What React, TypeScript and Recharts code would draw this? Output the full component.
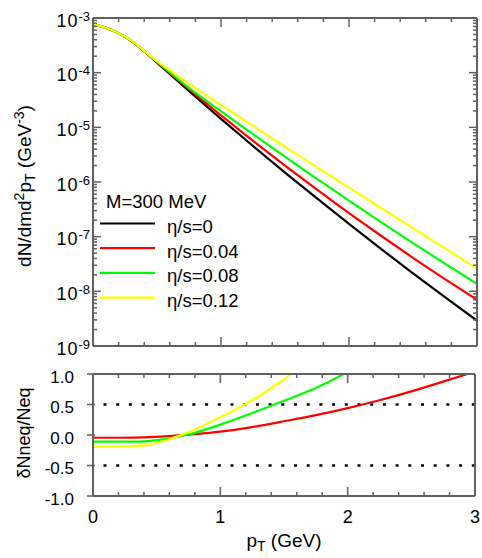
import React from 'react'
import { LineChart, Line, XAxis, YAxis, ReferenceLine, Legend } from 'recharts'

const FONT = '"Liberation Sans", Arial, Helvetica, sans-serif'
const FRAME = '#606060'

// transverse momentum grid of the spectra (GeV)
const ptGrid = [0, 0.1, 0.2, 0.3, 0.4, 0.5, 0.75, 1, 1.25, 1.5, 1.75, 2, 2.25, 2.5, 2.75, 3]

// dN/dmd2pT (GeV^-3), one list per eta/s
const spec0 = [7.76e-4, 6.61e-4, 5.25e-4, 3.8e-4, 2.45e-4, 1.53e-4, 4.62e-5, 1.43e-5, 4.56e-6, 1.49e-6, 5.0e-7, 1.71e-7, 5.98e-8, 2.14e-8, 7.82e-9, 2.92e-9]
const spec004 = [7.76e-4, 6.61e-4, 5.25e-4, 3.81e-4, 2.47e-4, 1.556e-4, 5.0e-5, 1.66e-5, 5.68e-6, 2.0e-6, 7.24e-7, 2.7e-7, 1.04e-7, 4.1e-8, 1.67e-8, 7.0e-9]
const spec008 = [7.76e-4, 6.61e-4, 5.25e-4, 3.82e-4, 2.49e-4, 1.585e-4, 5.27e-5, 1.97e-5, 7.48e-6, 2.9e-6, 1.14e-6, 4.55e-7, 1.85e-7, 7.64e-8, 3.21e-8, 1.37e-8]
const spec012 = [7.76e-4, 6.61e-4, 5.25e-4, 3.85e-4, 2.51e-4, 1.62e-4, 6.31e-5, 2.57e-5, 1.06e-5, 4.42e-6, 1.85e-6, 7.87e-7, 3.35e-7, 1.43e-7, 6.1e-8, 2.61e-8]

// dNneq/Neq, each curve stops where it leaves the frame
const ratioPt004 = [0, 0.2, 0.4, 0.6, 0.8, 1, 1.25, 1.5, 1.75, 2, 2.25, 2.5, 2.75, 2.94]
const ratio004 = [-0.045, -0.045, -0.04, -0.018, 0.015, 0.055, 0.13, 0.225, 0.325, 0.44, 0.57, 0.715, 0.875, 1.0]
const ratioPt008 = [0, 0.2, 0.4, 0.5, 0.6, 0.7, 0.8, 1, 1.25, 1.5, 1.75, 1.97]
const ratio008 = [-0.11, -0.11, -0.103, -0.085, -0.055, -0.015, 0.035, 0.17, 0.36, 0.56, 0.77, 1.0]
const ratioPt012 = [0, 0.2, 0.4, 0.5, 0.6, 0.7, 0.8, 1, 1.25, 1.5, 1.555]
const ratio012 = [-0.19, -0.188, -0.17, -0.13, -0.07, 0.005, 0.09, 0.29, 0.57, 0.91, 1.0]

// ticks
const ptTicks = [0, 0.2, 0.4, 0.6, 0.8, 1, 1.2, 1.4, 1.6, 1.8, 2, 2.2, 2.4, 2.6, 2.8, 3]
const decades = [1e-9, 1e-8, 1e-7, 1e-6, 1e-5, 1e-4, 1e-3]
const minorMult = [2, 3, 4, 5, 6, 7, 8, 9]
const ratioTicks = [-1, -0.5, 0, 0.5, 1]

const SERIES = [
  { key: 'v0', name: 'η/s=0', color: '#000000' },
  { key: 'v004', name: 'η/s=0.04', color: '#ff0000' },
  { key: 'v008', name: 'η/s=0.08', color: '#00ff00' },
  { key: 'v012', name: 'η/s=0.12', color: '#ffff00' },
]

const logTicks = decades.flatMap((d, i) =>
  i === decades.length - 1 ? [d] : [d, ...minorMult.map(m => m * d)])

const topData = ptGrid.map((pt, i) => ({
  pt, v0: spec0[i], v004: spec004[i], v008: spec008[i], v012: spec012[i],
}))

const ratioCurves = [
  { name: 'η/s=0.04', color: '#ff0000', data: ratioPt004.map((pt, i) => ({ pt, r: ratio004[i] })) },
  { name: 'η/s=0.08', color: '#00ff00', data: ratioPt008.map((pt, i) => ({ pt, r: ratio008[i] })) },
  { name: 'η/s=0.12', color: '#ffff00', data: ratioPt012.map((pt, i) => ({ pt, r: ratio012[i] })) },
]

const isInt = (v: number) => Math.abs(v - Math.round(v)) < 1e-6

// ticks point into the frame; dir is +1 (down/right) or -1 (up/left)
const xTick = (dir: number, labels: boolean) => (p: any) => {
  const v = p.payload.value
  const major = isInt(v)
  return (
    <g>
      <line x1={p.x} x2={p.x} y1={p.y} y2={p.y + dir * (major ? 9 : 4)} stroke={FRAME} strokeWidth={1.5} />
      {labels && major && (
        <text x={p.x} y={p.y + 27} textAnchor="middle" fontSize={18} fontFamily={FONT} fill="#000">{v}</text>
      )}
    </g>
  )
}

const logTick = (dir: number, labels: boolean) => (p: any) => {
  const v = p.payload.value
  const e = Math.round(Math.log10(v))
  const major = Math.abs(Math.log10(v) - e) < 1e-6
  return (
    <g>
      <line x1={p.x} x2={p.x + dir * (major ? 8 : 4)} y1={p.y} y2={p.y} stroke={FRAME} strokeWidth={1.5} />
      {labels && major && (
        <text x={p.x - 3} y={p.y + 8.5} textAnchor="end" fontSize={18} fontFamily={FONT} fill="#000" letterSpacing={1}>
          10<tspan dy={-6} fontSize={13} letterSpacing={0}>{e}</tspan>
        </text>
      )}
    </g>
  )
}

const ratioTick = (p: any) => (
  <g>
    <line x1={p.x - 6} x2={p.x + 2} y1={p.y} y2={p.y} stroke={FRAME} strokeWidth={1.5} />
    <text x={p.x - 19} y={p.y + 8.5} textAnchor="end" fontSize={17} fontFamily={FONT} fill="#000">
      {p.payload.value.toFixed(1)}
    </text>
  </g>
)

const SpectrumTitle = () => (
  <text transform="translate(31,186) rotate(-90)" textAnchor="middle" fontSize={19} fontFamily={FONT} fill="#000">
    dN/dmd<tspan dy={-7} fontSize={14}>2</tspan>
    <tspan dy={7}>p</tspan>
    <tspan dy={4} fontSize={14}>T</tspan>
    <tspan dy={-4}>{' (GeV'}</tspan>
    <tspan dy={-7} fontSize={14}>-3</tspan>
    <tspan dy={7}>)</tspan>
  </text>
)

const RatioTitle = () => (
  <text transform="translate(30,73) rotate(-90)" textAnchor="middle" fontSize={18} fontFamily={FONT} fill="#000">
    δNneq/Neq
  </text>
)

const PtTitle = () => (
  <text x={284} y={186.5} textAnchor="middle" fontSize={19} fontFamily={FONT} fill="#000">
    p<tspan dy={4} fontSize={14}>T</tspan>
    <tspan dy={-4}>{' (GeV)'}</tspan>
  </text>
)

const LegendBox = () => (
  <svg width={482} height={360} style={{ position: 'absolute', left: 0, top: 0 }}>
    <text x={106} y={208} fontSize={18.5} fontFamily={FONT} fill="#000">M=300 MeV</text>
    {SERIES.map((s, i) => (
      <g key={s.key}>
        <line x1={100} x2={155} y1={223.5 + i * 24.7} y2={223.5 + i * 24.7} stroke={s.color} strokeWidth={2.2} />
        <text x={167} y={233 + i * 24.7} fontSize={18.5} fontFamily={FONT} fill="#000">{s.name}</text>
      </g>
    ))}
  </svg>
)

export default function App() {
  return (
    <div style={{ position: 'absolute', left: 0, top: 0, width: 482, height: 558, background: '#fff' }}>
      <LineChart width={482} height={360} data={topData} margin={{ top: 0, right: 0, bottom: 0, left: 0 }}>
        <XAxis dataKey="pt" type="number" domain={[0, 3]} ticks={ptTicks} interval={0} height={14}
          tickSize={0} tickMargin={0} tickLine={false} tick={xTick(-1, false)}
          axisLine={{ stroke: FRAME, strokeWidth: 2 }} allowDataOverflow />
        <XAxis xAxisId="top" orientation="top" dataKey="pt" type="number" domain={[0, 3]} ticks={ptTicks} interval={0}
          height={18} tickSize={0} tickMargin={0} tickLine={false} tick={xTick(1, false)}
          axisLine={{ stroke: FRAME, strokeWidth: 2 }} allowDataOverflow />
        <YAxis scale="log" type="number" domain={[1e-9, 1e-3]} ticks={logTicks} interval={0} width={93}
          tickSize={0} tickMargin={0} tickLine={false} tick={logTick(1, true)}
          axisLine={{ stroke: FRAME, strokeWidth: 2 }} allowDataOverflow
          label={{ content: () => <SpectrumTitle /> }} />
        <YAxis yAxisId="right" orientation="right" scale="log" type="number" domain={[1e-9, 1e-3]} ticks={logTicks}
          interval={0} width={5} tickSize={0} tickMargin={0} tickLine={false} tick={logTick(-1, false)}
          axisLine={{ stroke: FRAME, strokeWidth: 2 }} allowDataOverflow />
        <Legend layout="horizontal" verticalAlign="middle" align="center" content={() => <LegendBox />}
          wrapperStyle={{ position: 'absolute', left: 0, top: 0, width: 482, height: 360, pointerEvents: 'none' }} />
        {SERIES.map(s => (
          <Line key={s.key} dataKey={s.key} name={s.name} type="natural" stroke={s.color} strokeWidth={2.2}
            dot={false} isAnimationActive={false} />
        ))}
      </LineChart>

      <LineChart width={482} height={198} margin={{ top: 0, right: 0, bottom: 0, left: 0 }}>
        <XAxis dataKey="pt" type="number" domain={[0, 3]} ticks={ptTicks} interval={0} height={62}
          tickSize={0} tickMargin={0} tickLine={false} tick={xTick(-1, true)}
          axisLine={{ stroke: FRAME, strokeWidth: 2 }} allowDataOverflow
          label={{ content: () => <PtTitle /> }} />
        <XAxis xAxisId="top" orientation="top" dataKey="pt" type="number" domain={[0, 3]} ticks={ptTicks} interval={0}
          height={14} tickSize={0} tickMargin={0} tickLine={false} tick={xTick(1, false)}
          axisLine={{ stroke: FRAME, strokeWidth: 2 }} allowDataOverflow />
        <YAxis type="number" domain={[-1, 1]} ticks={ratioTicks} interval={0} width={93}
          tickSize={0} tickMargin={0} tickLine={false} tick={ratioTick}
          axisLine={{ stroke: FRAME, strokeWidth: 2 }} allowDataOverflow
          label={{ content: () => <RatioTitle /> }} />
        <YAxis yAxisId="right" orientation="right" type="number" domain={[-1, 1]} width={7}
          tick={false} tickLine={false} axisLine={{ stroke: FRAME, strokeWidth: 2 }} allowDataOverflow />
        {[0.5, -0.5].map(y => (
          <ReferenceLine key={y} y={y} stroke="#000" strokeWidth={2.5} strokeDasharray="3 9.7" strokeDashoffset={2.2} />
        ))}
        {ratioCurves.map(c => (
          <Line key={c.name} data={c.data} dataKey="r" name={c.name} type="natural" stroke={c.color}
            strokeWidth={2.2} dot={false} isAnimationActive={false} />
        ))}
      </LineChart>
    </div>
  )
}
